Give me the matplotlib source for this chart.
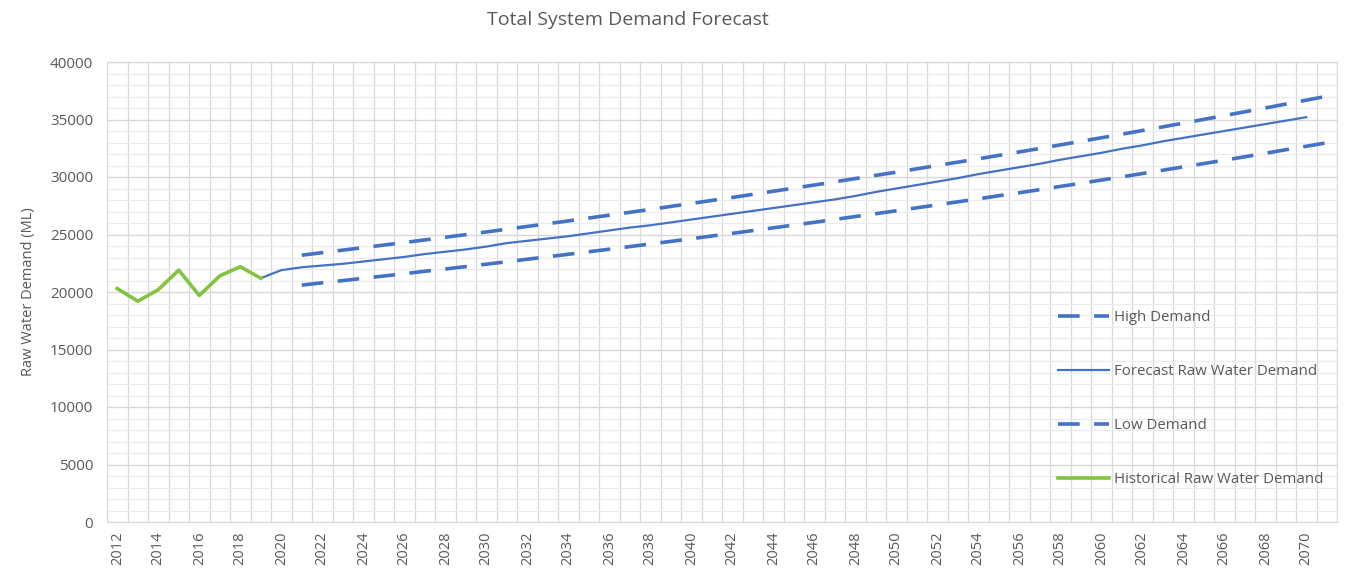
import numpy as np
import matplotlib
import matplotlib.pyplot as plt
from matplotlib.ticker import MultipleLocator

matplotlib.use('Agg')

# Years on the category axis
years = list(range(2012, 2072))

# Historical raw water demand (ML), 2012-2019
hist_years = list(range(2012, 2020))
hist_demand = [20300, 19200, 20200, 21900, 19700, 21400, 22200, 21200]

# Forecast raw water demand (ML), 2019-2070
fc_years = list(range(2019, 2071))
fc_demand = [
    21200, 21900, 22150, 22300, 22450, 22650, 22850, 23050, 23300, 23500,
    23700, 23950, 24250, 24450, 24650, 24850, 25100, 25350, 25600, 25800,
    26050, 26300, 26550, 26800, 27050, 27300, 27550, 27800, 28050, 28350,
    28700, 29000, 29300, 29600, 29900, 30250, 30550, 30850, 31150, 31500,
    31800, 32100, 32450, 32750, 33100, 33400, 33700, 34000, 34300, 34600,
    34900, 35200,
]

# High / low demand scenarios (ML), 2021-2071
scen_years = list(range(2021, 2072))
high_demand = [
    23200, 23420, 23640, 23860, 24080, 24300, 24530, 24760, 24990, 25220,
    25460, 25700, 25940, 26180, 26430, 26680, 26930, 27180, 27440, 27700,
    27960, 28220, 28490, 28760, 29030, 29300, 29580, 29860, 30140, 30420,
    30710, 31000, 31290, 31580, 31880, 32180, 32480, 32790, 33100, 33410,
    33720, 34040, 34360, 34680, 35010, 35340, 35670, 36000, 36340, 36680,
    37020,
]
low_demand = [
    20600, 20800, 20990, 21190, 21390, 21590, 21800, 22000, 22210, 22420,
    22630, 22850, 23060, 23280, 23500, 23720, 23950, 24170, 24400, 24630,
    24870, 25100, 25340, 25580, 25820, 26060, 26310, 26560, 26810, 27060,
    27320, 27580, 27840, 28100, 28370, 28630, 28900, 29180, 29450, 29730,
    30010, 30300, 30590, 30880, 31170, 31460, 31760, 32060, 32370, 32670,
    32980,
]

BLUE = '#4472C4'
GREEN = '#82C341'
TEXT = '#595959'

plt.rcParams['font.family'] = ['Open Sans', 'DejaVu Sans']

fig = plt.figure(figsize=(13.48, 5.75), dpi=100)
ax = fig.add_axes([107 / 1348, 1 - 522 / 575, 1230 / 1348, 460 / 575])


def pos(yrs):
    return [y - years[0] for y in yrs]


ax.plot(pos(scen_years), high_demand, color=BLUE, lw=2.6,
        dashes=(6, 4), label='High Demand')
ax.plot(pos(fc_years), fc_demand, color=BLUE, lw=1.6,
        label='Forecast Raw Water Demand')
ax.plot(pos(scen_years), low_demand, color=BLUE, lw=2.6,
        dashes=(6, 4), label='Low Demand')
ax.plot(pos(hist_years), hist_demand, color=GREEN, lw=2.6,
        label='Historical Raw Water Demand')

ax.set_xlim(-0.5, len(years) - 0.5)
ax.set_ylim(0, 40000)

# category ticks: labels every second year, gridlines between categories
ax.set_xticks(range(0, len(years), 2))
ax.set_xticklabels([str(y) for y in years[::2]], rotation=90)
ax.set_xticks(np.arange(-0.5, len(years), 1), minor=True)
ax.yaxis.set_major_locator(MultipleLocator(5000))
ax.yaxis.set_minor_locator(MultipleLocator(1000))

ax.grid(which='minor', axis='x', color='#D9D9D9', lw=0.9)
ax.grid(which='major', axis='y', color='#D9D9D9', lw=1.0)
ax.grid(which='minor', axis='y', color='#EBEBEB', lw=0.8)
ax.set_axisbelow(True)

ax.tick_params(which='both', length=0, colors=TEXT)
ax.tick_params(axis='x', pad=7, labelsize=10.5)
ax.tick_params(axis='y', pad=10, labelsize=11)
for s in ax.spines.values():
    s.set_color('#D9D9D9')

ax.set_ylabel('Raw Water Demand (ML)', color=TEXT, fontsize=10.5, labelpad=10)
fig.text(628 / 1348, 1 - 20 / 575, 'Total System Demand Forecast',
         ha='center', va='center', color=TEXT, fontsize=14)

ax.legend(loc='upper left', bbox_to_anchor=(1058 / 1348, 1 - 310 / 575),
          bbox_transform=fig.transFigure, frameon=False, fontsize=10.8,
          labelcolor=TEXT, handlelength=3.4, handletextpad=0.35,
          labelspacing=2.6, borderpad=0, borderaxespad=0)

fig.savefig('out.png', dpi=100)
